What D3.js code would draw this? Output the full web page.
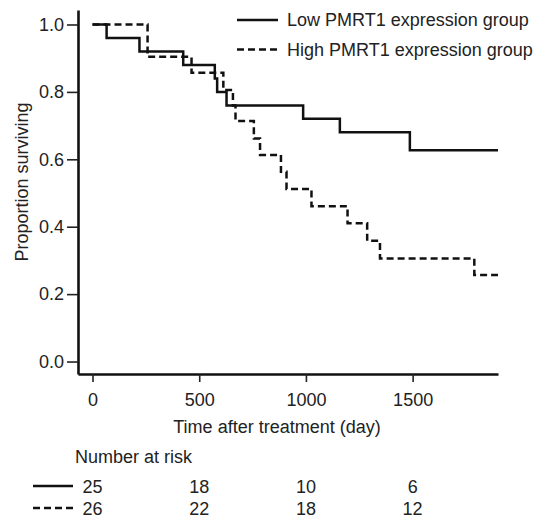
<!DOCTYPE html>
<html>
<head>
<meta charset="utf-8">
<script src="https://cdn.jsdelivr.net/npm/d3@7"></script>
<style>
  body { margin: 0; background: #fff; }
  text { font-family: "Liberation Sans", Arial, sans-serif; fill: #222; }
</style>
</head>
<body>
<svg id="chart" width="548" height="518"></svg>
<script>
// Kaplan-Meier steps (day, proportion surviving)
const lowTimes  = [0, 66, 220, 425, 573, 584, 628, 987, 1159, 1487, 1900];
const lowSurv   = [1.0, 0.96, 0.92, 0.88, 0.84, 0.80, 0.76, 0.72, 0.68, 0.627, 0.627];
const highTimes = [0, 258, 464, 613, 658, 670, 756, 785, 883, 909, 1026, 1195, 1287, 1347, 1789, 1900];
const highSurv  = [1.0, 0.904, 0.857, 0.806, 0.76, 0.714, 0.662, 0.613, 0.563, 0.512, 0.461, 0.41, 0.358, 0.306, 0.257, 0.257];

const groups = ['Low PMRT1 expression group', 'High PMRT1 expression group'];
const xTicks = [0, 500, 1000, 1500];
const yTicks = [0, 0.2, 0.4, 0.6, 0.8, 1.0];
const riskLow  = [25, 18, 10, 6];
const riskHigh = [26, 22, 18, 12];

const svg = d3.select('#chart');
const x = d3.scaleLinear().domain([-68, 1900]).range([78, 498]);
const y = d3.scaleLinear().domain([-0.037, 1.043]).range([374, 10]);
const dash = '7,4';

const line = d3.line()
  .x(d => x(d[0]))
  .y(d => y(d[1]))
  .curve(d3.curveStepAfter);

const series = [
  { pts: d3.zip(lowTimes, lowSurv), dash: null },
  { pts: d3.zip(highTimes, highSurv), dash: dash }
];

// axes
const yAxis = svg.append('g')
  .attr('transform', `translate(${x.range()[0]},0)`)
  .call(d3.axisLeft(y).tickValues(yTicks).tickFormat(d3.format('.1f'))
    .tickSize(11).tickSizeOuter(0).tickPadding(3));

const xAxis = svg.append('g')
  .attr('transform', `translate(0,${y.range()[0]})`)
  .call(d3.axisBottom(x).tickValues(xTicks).tickFormat(d3.format('d'))
    .tickSize(8).tickSizeOuter(0).tickPadding(11));

[yAxis, xAxis].forEach(a => {
  a.select('.domain').attr('stroke', '#111').attr('stroke-width', 2.6);
  a.selectAll('.tick line').attr('stroke', '#222').attr('stroke-width', 1.6);
  a.selectAll('.tick text').style('font-size', '18px').attr('fill', '#222');
});

// curves
svg.selectAll('path.km')
  .data(series)
  .enter()
  .append('path')
  .attr('class', 'km')
  .attr('d', d => line(d.pts))
  .attr('fill', 'none')
  .attr('stroke', '#111')
  .attr('stroke-width', 2.5)
  .attr('stroke-dasharray', d => d.dash);

// legend
const leg = svg.append('g');
groups.forEach((g, i) => {
  const ly = 20 + i * 29.5;
  leg.append('line')
    .attr('x1', 237).attr('x2', 278).attr('y1', ly).attr('y2', ly)
    .attr('stroke', '#111').attr('stroke-width', 2.5)
    .attr('stroke-dasharray', i ? dash : null);
  leg.append('text')
    .attr('x', 287).attr('y', ly + 6)
    .style('font-size', '18px')
    .text(g);
});

// axis titles
svg.append('text')
  .attr('transform', 'translate(28,182) rotate(-90)')
  .attr('text-anchor', 'middle')
  .style('font-size', '18px')
  .text('Proportion surviving');

svg.append('text')
  .attr('x', 277).attr('y', 433)
  .attr('text-anchor', 'middle')
  .style('font-size', '18px')
  .text('Time after treatment (day)');

// number at risk table
svg.append('text')
  .attr('x', 75).attr('y', 463)
  .style('font-size', '18px')
  .text('Number at risk');

[riskLow, riskHigh].forEach((row, i) => {
  const base = i ? 515 : 493;
  svg.append('line')
    .attr('x1', 33).attr('x2', 73)
    .attr('y1', base - 7).attr('y2', base - 7)
    .attr('stroke', '#111').attr('stroke-width', 2.5)
    .attr('stroke-dasharray', i ? dash : null);
  svg.selectAll(null)
    .data(row)
    .enter()
    .append('text')
    .attr('x', (d, j) => x(xTicks[j]))
    .attr('y', base)
    .attr('text-anchor', 'middle')
    .style('font-size', '18px')
    .text(d => d);
});
</script>
</body>
</html>
